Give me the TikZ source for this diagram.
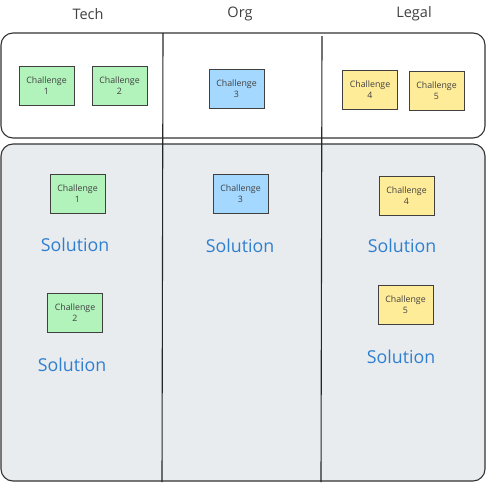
\documentclass[tikz,border=0pt]{standalone}
\usepackage{fontspec}
\setmainfont{Open Sans}
\begin{document}
\begin{tikzpicture}[x=1pt,y=-1pt,
  frame/.style={draw=black!80,line width=1.1pt,rounded corners=12pt},
  chal/.style={draw=black!75,line width=1pt,minimum width=55pt,minimum height=39pt,inner sep=1pt,align=center,font=\fontsize{8.8}{11}\selectfont,text=black!75},
  green/.style={fill={rgb,255:red,178;green,242;blue,187}},
  blue/.style={fill={rgb,255:red,165;green,216;blue,255}},
  yellow/.style={fill={rgb,255:red,255;green,236;blue,153}},
  sol/.style={font=\fontsize{17.8}{21}\selectfont,text={rgb,255:red,47;green,127;blue,208}},
  head/.style={font=\fontsize{14.5}{17}\selectfont,text=black!75},
  divider/.style={draw=black!85,line width=1.1pt}]
\useasboundingbox (0,0) rectangle (487,482);
% frames
\draw[frame] (1,33) rectangle (485,138);
\draw[frame,fill={rgb,255:red,233;green,236;blue,239}] (1,144) rectangle (485,481);
% dividers
\coordinate (d1t) at (163,33);
\coordinate (d1b) at (162,482);
\coordinate (d2t) at (322,36);
\coordinate (d2b) at (321,482);
\draw[divider] (d1t) -- (d1b);
\draw[divider] (d2t) -- (d2b);
% headers
\node[head] (htech) at (88,14) {Tech};
\node[head] (horg) at (240,14) {Org};
\node[head] (hlegal) at (414,14) {Legal};
% top row challenges
\node[chal,green] (t1) at (46.5,85.5) {Challenge\\1};
\node[chal,green] (t2) at (119.5,85.5) {Challenge\\2};
\node[chal,blue] (t3) at (236.5,88.5) {Challenge\\3};
\node[chal,yellow] (t4) at (370,90) {Challenge\\4};
\node[chal,yellow] (t5) at (436.5,91) {Challenge\\5};
% bottom challenges & solutions
\node[chal,green] (b1) at (77.5,193.5) {Challenge\\1};
\node[sol] (s1) at (75,245) {Solution};
\node[chal,green] (b2) at (75,312.5) {Challenge\\2};
\node[sol] (s2) at (72,365) {Solution};
\node[chal,blue] (b3) at (240.5,194) {Challenge\\3};
\node[sol] (s3) at (240,246) {Solution};
\node[chal,yellow] (b4) at (406.5,195.5) {Challenge\\4};
\node[sol] (s4) at (402,246) {Solution};
\node[chal,yellow] (b5) at (405.5,304.5) {Challenge\\5};
\node[sol] (s5) at (401,357) {Solution};
\end{tikzpicture}
\end{document}
